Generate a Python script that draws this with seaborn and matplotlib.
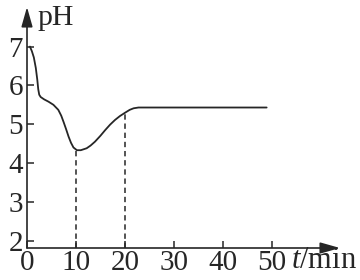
import matplotlib
matplotlib.use("Agg")
import matplotlib.pyplot as plt
import seaborn as sns
import pandas as pd

# data
t_min = [0.6, 1.0, 1.4, 1.8, 2.1, 2.3, 2.5, 2.8, 3.5, 4.4, 5.4, 6.4, 7.0, 7.5, 8.0,
         8.5, 9.0, 9.5, 10.2, 11.0, 12.2, 13.0, 13.9, 15.0, 16.0, 17.0, 18.0, 19.0,
         20.1, 21.0, 21.8, 22.8, 30.0, 40.0, 49.0]
ph = [7.0, 6.88, 6.72, 6.45, 6.15, 5.90, 5.76, 5.70, 5.64, 5.58, 5.50, 5.37, 5.22, 5.05, 4.87,
      4.68, 4.52, 4.40, 4.33, 4.33, 4.38, 4.45, 4.55, 4.70, 4.85, 4.99, 5.11, 5.21,
      5.30, 5.37, 5.41, 5.43, 5.43, 5.43, 5.43]
dash_t = [10, 20]
dash_ph = [4.33, 5.30]
x_ticks = [0, 10, 20, 30, 40, 50]
y_ticks = [2, 3, 4, 5, 6, 7]

sns.set_theme(style="white")
plt.rcParams["font.family"] = ["Liberation Serif", "DejaVu Serif"]
plt.rcParams["mathtext.fontset"] = "custom"
plt.rcParams["mathtext.it"] = "Liberation Serif:italic"
plt.rcParams["mathtext.rm"] = "Liberation Serif"

W, H = 360, 280
fig = plt.figure(figsize=(W / 100, H / 100), dpi=100)
x0, x1, y0, y1 = 27, 340, 248, 7
ax = fig.add_axes([x0 / W, 1 - y0 / H, (x1 - x0) / W, (y0 - y1) / H])

ink = "#262626"
df = pd.DataFrame({"t": t_min, "pH": ph})
sns.lineplot(data=df, x="t", y="pH", ax=ax, color=ink, linewidth=1.3, sort=True)
ax.vlines(dash_t, 1.81, dash_ph, colors=ink, linewidth=1.1, linestyles=(0, (3.5, 2.5)))

ax.set_xlim(0, 64)
ax.set_ylim(1.81, 8.02)
ax.set_xticks(x_ticks)
ax.set_yticks(y_ticks)
ax.set_xlabel("")
ax.set_ylabel("")
for s in ax.spines.values():
    s.set_visible(False)
ax.tick_params(axis="both", direction="in", length=5, width=1.1, color=ink,
               labelsize=21, labelcolor=ink, bottom=True, left=True)
ax.tick_params(axis="x", pad=1.5)
ax.tick_params(axis="y", pad=3)

arrow = dict(arrowstyle="-|>,head_length=0.6,head_width=0.17", color=ink, lw=1.2,
             mutation_scale=20, shrinkA=0, shrinkB=0)
ax.annotate("", xy=(1, 0), xytext=(0, 0), xycoords="axes fraction", arrowprops=arrow,
            annotation_clip=False)
ax.annotate("", xy=(0, 1), xytext=(0, 0), xycoords="axes fraction", arrowprops=arrow,
            annotation_clip=False)

fig.text(37 / W, 1 - 25 / H, "pH", fontsize=21.5, color=ink, va="baseline", ha="left")
fig.text(291 / W, 1 - 268 / H, "$t$/min", fontsize=22, color=ink, va="baseline", ha="left")

fig.savefig("out.png", dpi=100)
